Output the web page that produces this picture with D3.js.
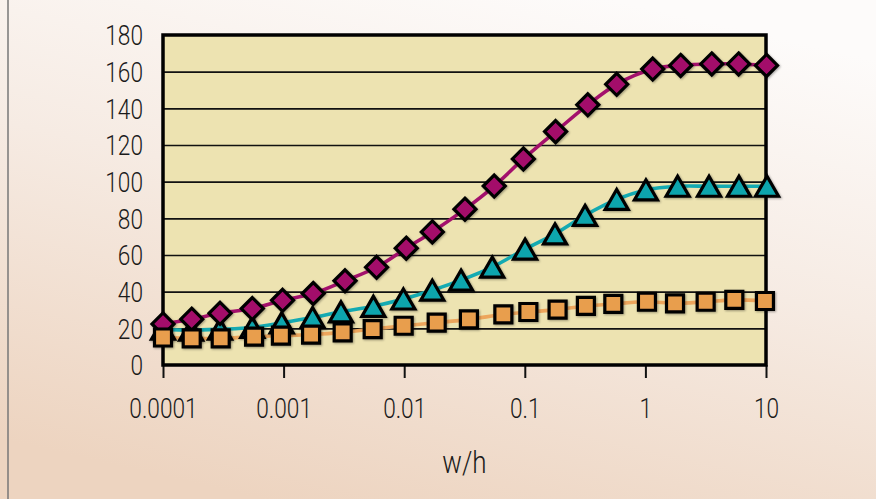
<!DOCTYPE html>
<html>
<head>
<meta charset="utf-8">
<script src="https://cdn.jsdelivr.net/npm/d3@7"></script>
<style>
  body { margin: 0; }
  #chart text { font-family: Roboto, "Liberation Sans", sans-serif; font-weight: 300; fill: #1a1a1a; }
</style>
</head>
<body>
<div id="chart"></div>
<script>
// w/h positions and values, one set per series
const diamondX = [0.0001, 0.000173, 0.000297, 0.00055, 0.00098, 0.00176, 0.00323, 0.0059, 0.0104, 0.0171, 0.0319,
  0.0558, 0.0973, 0.18, 0.333, 0.578, 1.15, 1.96, 3.55, 5.93, 10.1];
const diamondY = [22.4, 25, 28.2, 30.8, 35.3, 39, 45.9, 53.3, 63.7, 72.6, 85, 97.6, 112.4, 127.3, 141.9, 153.1,
  161.4, 163.4, 164.2, 164.2, 163.4];

const triangleX = [0.0001, 0.000171, 0.000297, 0.00055, 0.000964, 0.00174, 0.00299, 0.00555, 0.00984, 0.0171, 0.0296,
  0.0537, 0.1005, 0.178, 0.316, 0.578, 1.01, 1.85, 3.37, 5.97, 10.2];
const triangleY = [19.5, 19, 19.5, 20.5, 23, 25.9, 29, 32, 36, 40.8, 46.3, 53.4, 63.2, 71.5, 81.6, 90.3,
  95.5, 97.5, 97.5, 97.5, 97.5];

const squareX = [0.0001, 0.000173, 0.000301, 0.000569, 0.00095, 0.00169, 0.00309, 0.00548, 0.0099, 0.0186, 0.0344,
  0.0664, 0.107, 0.187, 0.321, 0.542, 1.03, 1.76, 3.16, 5.46, 9.8];
const squareY = [15, 14.5, 14.5, 15.5, 16, 16.6, 17.8, 19.6, 21.4, 23.1, 24.9, 27.6, 28.9, 30.2, 32.2, 33.3,
  34.5, 33.6, 34.5, 35.5, 34.9];

const xTicks = [0.0001, 0.001, 0.01, 0.1, 1, 10];
const xTickLabels = ['0.0001', '0.001', '0.01', '0.1', '1', '10'];
const yTicks = [0, 20, 40, 60, 80, 100, 120, 140, 160, 180];
const xTitle = 'w/h';

const W = 876, H = 499;
const plot = { left: 163, right: 766, top: 35, bottom: 365 };
const squeeze = 0.84; // the labels use a narrow face

const x = d3.scaleLog().domain([0.0001, 10]).range([plot.left, plot.right]);
const y = d3.scaleLinear().domain([0, 180]).range([plot.bottom, plot.top]);

const svg = d3.select('#chart').append('svg')
  .attr('width', W)
  .attr('height', H);

const defs = svg.append('defs');
const grad = defs.append('linearGradient')
  .attr('id', 'bg')
  .attr('x1', 0.7).attr('y1', 0).attr('x2', 0.3).attr('y2', 1);
grad.append('stop').attr('offset', 0).attr('stop-color', '#fdfbfa');
grad.append('stop').attr('offset', 0.45).attr('stop-color', '#f6ebe3');
grad.append('stop').attr('offset', 1).attr('stop-color', '#edd4c0');

const shadow = defs.append('filter').attr('id', 'shadow')
  .attr('x', -0.5).attr('y', -0.5).attr('width', 2).attr('height', 2);
shadow.append('feDropShadow')
  .attr('dx', 1).attr('dy', 1).attr('stdDeviation', 0.8)
  .attr('flood-color', '#000').attr('flood-opacity', 0.35);

// narrow the tick labels around their own anchor
const narrow = sel => sel.each(function() {
  const t = d3.select(this);
  const tx = +t.attr('x') || 0;
  t.attr('x', 0).attr('transform', `translate(${tx},0) scale(${squeeze},1)`);
});

// page background and left frame line
svg.append('rect').attr('width', W).attr('height', H).attr('fill', 'url(#bg)');
svg.append('line')
  .attr('x1', 8).attr('x2', 8).attr('y1', 0).attr('y2', H)
  .attr('stroke', '#777').attr('stroke-width', 1.5);

// plot area
svg.append('rect')
  .attr('x', plot.left).attr('y', plot.top)
  .attr('width', plot.right - plot.left).attr('height', plot.bottom - plot.top)
  .attr('fill', '#ede3b1');

// gridlines
svg.append('g')
  .attr('transform', `translate(${plot.left},0)`)
  .call(d3.axisLeft(y).tickValues(yTicks.slice(1, -1)).tickSize(-(plot.right - plot.left)).tickFormat(''))
  .call(g => g.select('.domain').remove())
  .call(g => g.selectAll('line').attr('stroke', '#111').attr('stroke-width', 1.6));

// y axis labels
svg.append('g')
  .attr('transform', `translate(${plot.left},0)`)
  .call(d3.axisLeft(y).tickValues(yTicks).tickSize(0).tickPadding(20))
  .call(g => g.select('.domain').remove())
  .call(g => g.selectAll('text').attr('font-size', 27).attr('font-family', null).attr('dy', '0.36em').call(narrow));

// x axis
svg.append('g')
  .attr('transform', `translate(0,${plot.bottom})`)
  .call(d3.axisBottom(x).tickValues(xTicks).tickSize(13).tickPadding(21)
    .tickFormat((d, i) => xTickLabels[i]))
  .call(g => g.select('.domain').remove())
  .call(g => g.selectAll('line').attr('stroke', '#111').attr('stroke-width', 2))
  .call(g => g.selectAll('text').attr('font-size', 27).attr('font-family', null).call(narrow));

svg.append('text')
  .attr('transform', `translate(${(plot.left + plot.right) / 2},473) scale(${squeeze},1)`)
  .attr('text-anchor', 'middle')
  .attr('font-size', 31)
  .text(xTitle);

// plot border
svg.append('rect')
  .attr('x', plot.left).attr('y', plot.top)
  .attr('width', plot.right - plot.left).attr('height', plot.bottom - plot.top)
  .attr('fill', 'none').attr('stroke', '#000').attr('stroke-width', 3.5);

const series = [
  { xs: triangleX, ys: triangleY, color: '#11a5ad', line: '#14aab2', shape: 'triangle' },
  { xs: diamondX, ys: diamondY, color: '#a30f6b', line: '#a3106c', shape: 'diamond' },
  { xs: squareX, ys: squareY, color: '#e89e4e', line: '#eda55c', shape: 'square' }
];

const line = d3.line()
  .x(d => x(d[0]))
  .y(d => y(d[1]))
  .curve(d3.curveCatmullRom.alpha(0.5));

// smoothed lines first
series.forEach(s => {
  svg.append('path')
    .datum(s.xs.map((v, i) => [v, s.ys[i]]))
    .attr('d', line)
    .attr('fill', 'none')
    .attr('stroke', s.line)
    .attr('stroke-width', 3.6);
});

const shapePath = {
  triangle: 'M0,-10L11.5,10L-11.5,10Z',
  diamond: 'M0,-11L11,0L0,11L-11,0Z',
  square: 'M-8.5,-8.5L8.5,-8.5L8.5,8.5L-8.5,8.5Z'
};

series.forEach(s => {
  svg.append('g')
    .selectAll('path')
    .data(s.xs.map((v, i) => [v, s.ys[i]]))
    .join('path')
    .attr('transform', d => `translate(${x(d[0])},${y(d[1])})`)
    .attr('d', shapePath[s.shape])
    .attr('fill', s.color)
    .attr('stroke', '#000')
    .attr('stroke-width', 3.2)
    .attr('stroke-linejoin', 'miter')
    .attr('filter', 'url(#shadow)');
});
</script>
</body>
</html>
